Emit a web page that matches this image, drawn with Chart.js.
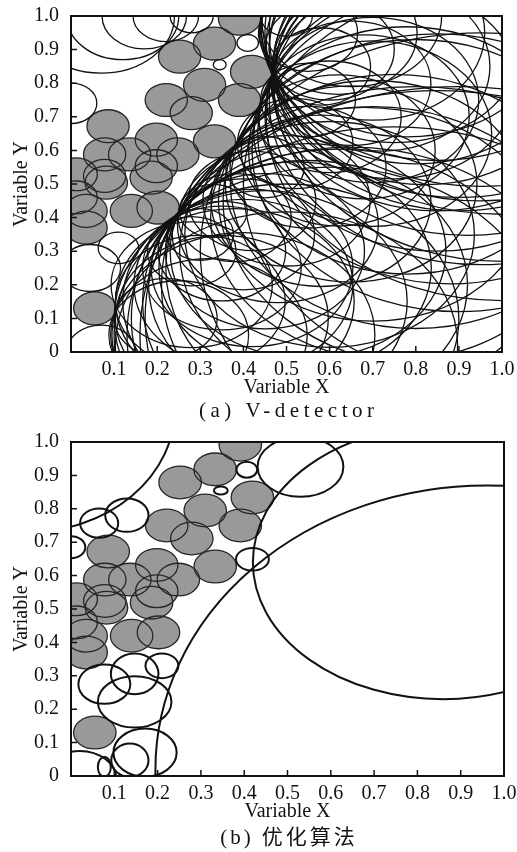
<!DOCTYPE html>
<html><head><meta charset="utf-8">
<script src="https://cdn.jsdelivr.net/npm/chart.js@4/dist/chart.umd.min.js"></script>
<style>
html,body{margin:0;padding:0;background:#fff;}
.wrap{position:relative;width:517px;height:426px;}
canvas{display:block}
</style></head><body>
<div class="wrap"><canvas id="c1"></canvas></div>
<div class="wrap"><canvas id="c2"></canvas></div>
<script>
// ---------- data ----------
const xTickLabels = ['', '0.1', '0.2', '0.3', '0.4', '0.5', '0.6', '0.7', '0.8', '0.9', '1.0'];
const yTickLabels = ['0', '0.1', '0.2', '0.3', '0.4', '0.5', '0.6', '0.7', '0.8', '0.9', '1.0'];
const captions = ['(a) V-detector', '(b) 优化算法'];

// self samples (grey discs), same in both panels
const selfX = [0.391, 0.333, 0.252, 0.419, 0.310, 0.391, 0.221, 0.279, 0.086, 0.333, 0.198, 0.078, 0.136, 0.248, 0.198, 0.078, 0.012, 0.082, 0.186, 0.140, 0.035, 0.202, 0.035, 0.055, 0.012];
const selfY = [0.992, 0.918, 0.879, 0.834, 0.795, 0.750, 0.750, 0.711, 0.672, 0.627, 0.632, 0.588, 0.588, 0.588, 0.553, 0.524, 0.529, 0.504, 0.519, 0.420, 0.420, 0.430, 0.370, 0.130, 0.460];
const selfR = 0.049;

// (a) V-detector detectors: centre and radius
const detAX = [0.60, 0.70, 0.80, 0.90, 0.75, 0.65, 0.85, 0.70, 0.95, 0.60, 0.55, 0.65, 0.85, 1.00, 0.78, 0.55, 0.90, 0.58, 0.75, 0.95, 0.70, 0.85, 1.00, 0.62, 0.80, 0.90, 0.50,
  0.62, 0.72, 0.82, 0.92, 0.68, 0.88, 1.00, 0.78, 0.95,
  0.55, 0.65, 0.50, 0.75, 0.60, 0.45, 0.40, 0.55, 0.50, 0.35, 0.65, 0.80, 0.40, 0.35, 0.30, 0.70, 0.45, 0.42, 0.85, 0.55, 0.40, 0.25, 0.95, 1.00, 0.90, 0.30, 0.33, 0.35, 0.45, 0.60, 0.75, 0.38, 0.48, 0.28, 0.32, 0.22,
  0.52, 0.58, 0.70, 0.68, 0.42, 0.52, 0.62, 0.85, 0.38, 0.50, 0.28,
  0.07, 0.12, 0.17, 0.22, 0.28, 0.41, 0.345, 0.00, 0.11, 0.045, 0.07];
const detAY = [0.90, 0.95, 0.90, 0.85, 0.80, 0.80, 0.70, 0.65, 0.75, 0.70, 0.95, 1.00, 0.98, 0.95, 0.60, 0.75, 0.60, 0.85, 0.92, 0.95, 0.75, 0.80, 0.80, 0.60, 0.50, 0.90, 1.00,
  0.95, 0.85, 0.85, 0.80, 0.70, 0.65, 0.70, 0.98, 1.00,
  0.55, 0.50, 0.45, 0.40, 0.35, 0.30, 0.20, 0.20, 0.10, 0.10, 0.10, 0.20, 0.35, 0.25, 0.15, 0.25, 0.55, 0.45, 0.45, 0.30, 0.05, 0.05, 0.30, 0.50, 0.05, 0.35, 0.42, 0.30, 0.15, 0.05, 0.05, 0.40, 0.38, 0.20, 0.05, 0.10,
  0.62, 0.45, 0.45, 0.30, 0.25, 0.25, 0.15, 0.10, 0.15, 0.02, 0.30,
  1.00, 1.00, 1.00, 1.00, 1.00, 0.92, 0.855, 0.74, 0.31, 0.25, 0.00];
const detAR = [0.150, 0.260, 0.340, 0.430, 0.285, 0.185, 0.400, 0.276, 0.490, 0.166, 0.115, 0.210, 0.410, 0.540, 0.368, 0.110, 0.480, 0.115, 0.297, 0.500, 0.246, 0.380, 0.530, 0.225, 0.430, 0.440, 0.060,
  0.183, 0.252, 0.352, 0.453, 0.244, 0.447, 0.547, 0.340, 0.507,
  0.181, 0.292, 0.194, 0.426, 0.336, 0.231, 0.254, 0.370, 0.400, 0.247, 0.510, 0.590, 0.165, 0.184, 0.197, 0.480, 0.091, 0.148, 0.497, 0.320, 0.305, 0.162, 0.650, 0.600, 0.740, 0.077, 0.079, 0.148, 0.330, 0.500, 0.620, 0.131, 0.233, 0.187, 0.228, 0.119,
  0.134, 0.255, 0.358, 0.428, 0.234, 0.316, 0.454, 0.678, 0.277, 0.397, 0.103,
  0.170, 0.130, 0.098, 0.076, 0.050, 0.025, 0.015, 0.060, 0.047, 0.070, 0.080];

// (b) optimised detectors: centre and x/y radii
const detBX  = [-0.10, 0.065, 0.129, 0.000, 0.406, 0.346, 0.419, 0.530, 0.86, 0.96, 0.077, 0.147, 0.210, 0.147, 0.171, 0.136, 0.020, 0.077];
const detBY  = [1.10, 0.757, 0.781, 0.685, 0.917, 0.855, 0.649, 0.926, 0.64, 0.02, 0.275, 0.306, 0.330, 0.222, 0.070, 0.047, -0.010, 0.027];
const detBRX = [0.34, 0.044, 0.050, 0.033, 0.024, 0.016, 0.038, 0.099, 0.44, 0.765, 0.060, 0.055, 0.038, 0.085, 0.073, 0.043, 0.085, 0.015];
const detBRY = [0.37, 0.044, 0.050, 0.033, 0.024, 0.012, 0.034, 0.090, 0.41, 0.850, 0.059, 0.061, 0.037, 0.077, 0.072, 0.050, 0.085, 0.030];

// ---------- chart ----------
const FONT = '"Liberation Serif", "Times New Roman", "Noto Sans CJK SC", serif';
const selfPts = selfX.map((x, i) => ({x, y: selfY[i], rx: selfR, ry: selfR}));
const detAPts = detAX.map((x, i) => ({x, y: detAY[i], rx: detAR[i], ry: detAR[i]}));
const detBPts = detBX.map((x, i) => ({x, y: detBY[i], rx: detBRX[i], ry: detBRY[i]}));

const ellipsePlugin = {
  id: 'ellipses',
  afterDatasetsDraw(chart, args, opts) {
    const {ctx, chartArea: a, scales: {x, y}} = chart;
    const path = p => {
      const cx = x.getPixelForValue(p.x), cy = y.getPixelForValue(p.y);
      const rx = Math.abs(x.getPixelForValue(p.x + p.rx) - cx);
      const ry = Math.abs(y.getPixelForValue(p.y + p.ry) - cy);
      ctx.beginPath(); ctx.ellipse(cx, cy, rx, ry, 0, 0, Math.PI * 2);
    };
    ctx.save();
    ctx.beginPath(); ctx.rect(a.left, a.top, a.right - a.left, a.bottom - a.top); ctx.clip();
    chart.data.datasets.forEach(ds => {
      if (ds.fillCol) {
        ctx.fillStyle = ds.fillCol;
        ds.data.forEach(p => { path(p); ctx.fill(); });
      }
      ctx.strokeStyle = ds.strokeCol; ctx.lineWidth = ds.strokeW;
      ds.data.forEach(p => { path(p); ctx.stroke(); });
    });
    ctx.restore();
    // frame + inner ticks
    ctx.save();
    ctx.strokeStyle = '#111'; ctx.lineWidth = 2;
    ctx.strokeRect(a.left, a.top, a.right - a.left, a.bottom - a.top);
    ctx.lineWidth = 1.5;
    ctx.beginPath();
    x.ticks.forEach(t => { const px = x.getPixelForValue(t.value); ctx.moveTo(px, a.bottom); ctx.lineTo(px, a.bottom - 6); });
    y.ticks.forEach(t => { const py = y.getPixelForValue(t.value); ctx.moveTo(a.left, py); ctx.lineTo(a.left + 6, py); });
    ctx.stroke();
    // caption (letter-spaced, centred under the plot)
    ctx.fillStyle = '#111';
    ctx.font = '21px ' + FONT;
    ctx.textAlign = 'center'; ctx.textBaseline = 'middle';
    if ('letterSpacing' in ctx) ctx.letterSpacing = opts.spacing + 'px';
    ctx.fillText(opts.text, (a.left + a.right) / 2 + opts.spacing / 2, a.bottom + opts.offset);
    ctx.restore();
  }
};

function makeChart(id, detPts, detW, caption, spacing, capOffset, padTop, padRight, padBottom) {
  return new Chart(document.getElementById(id), {
    type: 'scatter',
    data: {
      datasets: [
        {data: selfPts, pointRadius: 0, pointHoverRadius: 0, fillCol: '#999999', strokeCol: '#262626', strokeW: 1.3},
        {data: detPts, pointRadius: 0, pointHoverRadius: 0, strokeCol: '#111', strokeW: detW}
      ]
    },
    options: {
      responsive: true, maintainAspectRatio: false, animation: false, devicePixelRatio: 1,
      layout: {padding: {top: padTop, right: padRight, left: 0, bottom: padBottom}},
      plugins: {
        legend: {display: false}, tooltip: {enabled: false},
        ellipses: {text: caption, spacing: spacing, offset: capOffset}
      },
      scales: {
        x: {type: 'linear', min: 0, max: 1,
          ticks: {stepSize: 0.1, autoSkip: false, maxRotation: 0, padding: -2, color: '#111',
            font: {family: FONT, size: 20}, callback: (v, i) => xTickLabels[i]},
          grid: {display: false}, border: {display: false},
          title: {display: true, text: 'Variable X', color: '#111', font: {family: FONT, size: 20}, padding: {top: 0, bottom: 0}},
          afterFit: s => { s.height = 48; }
        },
        y: {type: 'linear', min: 0, max: 1,
          ticks: {stepSize: 0.1, autoSkip: false, padding: 4, color: '#111',
            font: {family: FONT, size: 20}, callback: (v, i) => yTickLabels[i]},
          grid: {display: false}, border: {display: false},
          title: {display: true, text: 'Variable Y', color: '#111', font: {family: FONT, size: 20}, padding: {top: 10, bottom: 0}},
          afterFit: s => { s.width = 71; }
        }
      }
    },
    plugins: [ellipsePlugin]
  });
}

makeChart('c1', detAPts, 1.3, captions[0], 4.5, 59, 14, 15, 26);
makeChart('c2', detBPts, 2, captions[1], 3, 62, 12, 13, 28);
</script>
</body></html>
